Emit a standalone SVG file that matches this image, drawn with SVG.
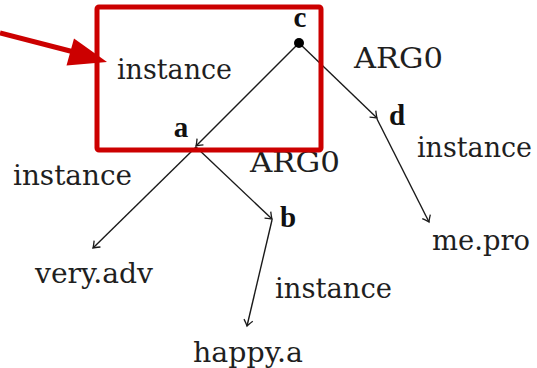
<svg xmlns="http://www.w3.org/2000/svg" width="537" height="368" viewBox="0 0 537 368">
<style>
  .t{font-family:"DejaVu Serif",serif;font-size:27.5px;fill:#1f1f1f}
  .b{font-family:"Liberation Serif","DejaVu Serif",serif;font-size:29px;font-weight:bold;fill:#111}
  .e{stroke:#1a1a1a;stroke-width:1.4;fill:none;marker-end:url(#to)}
  .red{stroke:#cc0000;stroke-width:5;fill:none}
</style>
<defs>
  <marker id="to" markerUnits="userSpaceOnUse" markerWidth="14" markerHeight="14" refX="0" refY="0" viewBox="-8 -7 10 14" orient="auto" overflow="visible">
    <path d="M-6,-4.5 Q-1.5,-0.8 0,0 Q-1.5,0.8 -6,4.5" stroke="#1a1a1a" stroke-width="1.3" fill="none"/>
  </marker>
</defs>
<rect width="537" height="368" fill="#ffffff"/>
<g id="connectors">
  <line class="e" x1="299" y1="43" x2="196" y2="146"/>
  <line class="e" x1="299" y1="43" x2="377" y2="118"/>
  <line class="e" x1="196" y1="147" x2="93" y2="248"/>
  <line class="e" x1="196" y1="147" x2="272" y2="219"/>
  <line class="e" x1="272" y1="220" x2="247" y2="326"/>
  <line class="e" x1="377" y1="119" x2="429" y2="222"/>
  <text class="t" x="117" y="79" textLength="115" lengthAdjust="spacingAndGlyphs">instance</text>
  <text class="t" x="354" y="68" textLength="89" lengthAdjust="spacingAndGlyphs">ARG0</text>
  <text class="t" x="417" y="157" textLength="115" lengthAdjust="spacingAndGlyphs">instance</text>
  <text class="t" x="13" y="185" textLength="119" lengthAdjust="spacingAndGlyphs">instance</text>
  <text class="t" x="250" y="172" textLength="90" lengthAdjust="spacingAndGlyphs">ARG0</text>
  <text class="t" x="275" y="298" textLength="117" lengthAdjust="spacingAndGlyphs">instance</text>
</g>
<g id="node-c">
  <circle cx="299" cy="43" r="5" fill="#000"/>
  <text class="b" x="300" y="27" text-anchor="middle">c</text>
</g>
<g id="node-a">
  <text class="b" x="181" y="137" text-anchor="middle">a</text>
</g>
<g id="node-d">
  <text class="b" x="397" y="125" text-anchor="middle">d</text>
</g>
<g id="node-b">
  <text class="b" x="288" y="227" text-anchor="middle">b</text>
</g>
<g id="node-very">
  <text class="t" x="35" y="283" textLength="118" lengthAdjust="spacingAndGlyphs">very.adv</text>
</g>
<g id="node-happy">
  <text class="t" x="193" y="362" textLength="110" lengthAdjust="spacingAndGlyphs">happy.a</text>
</g>
<g id="node-me">
  <text class="t" x="432" y="250" textLength="98" lengthAdjust="spacingAndGlyphs">me.pro</text>
</g>
<g id="highlight">
  <rect class="red" x="97" y="7" width="224" height="143" rx="2"/>
  <line class="red" x1="0" y1="33" x2="74" y2="52"/>
  <polygon points="107,62 66.5,65.5 74,38.5" fill="#cc0000"/>
</g>
</svg>
